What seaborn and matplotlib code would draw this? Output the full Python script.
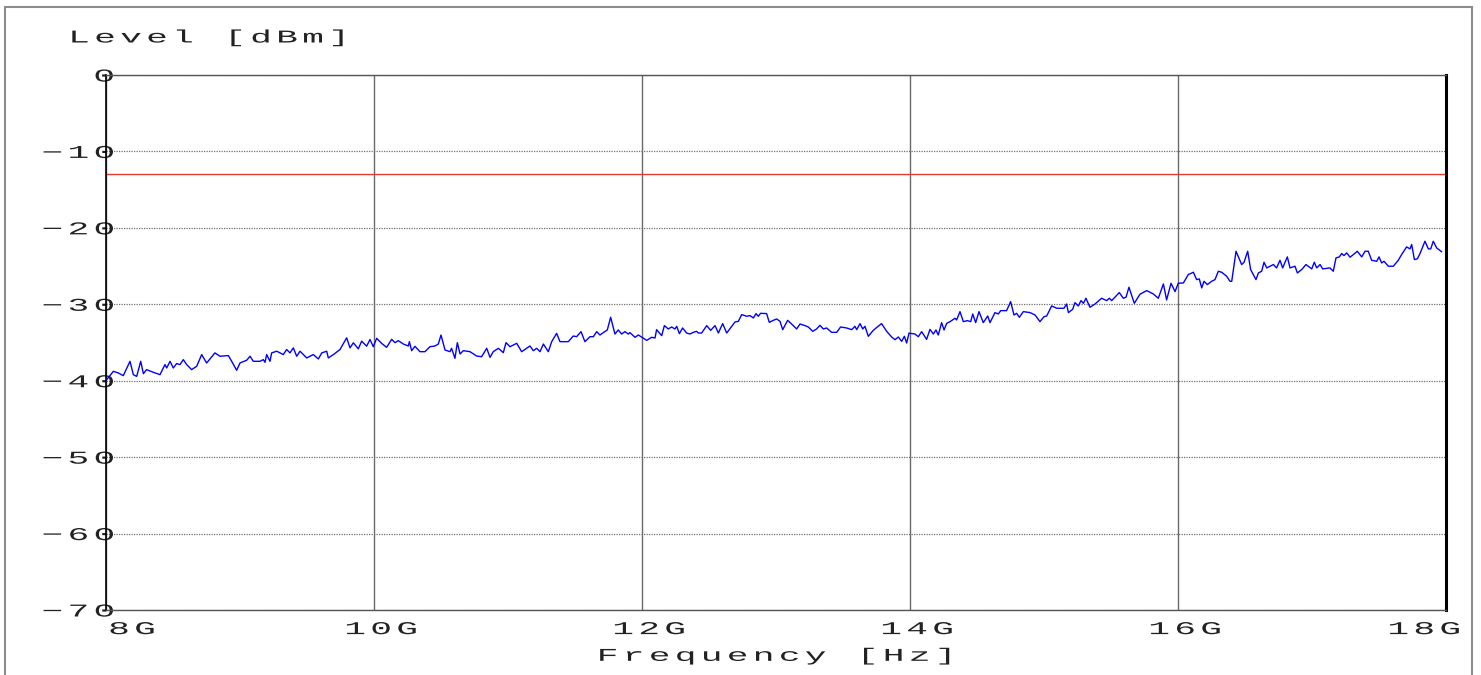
import matplotlib
matplotlib.use('Agg')
import numpy as np
import matplotlib.pyplot as plt
import matplotlib.transforms as mtransforms
from matplotlib.patches import Rectangle
from matplotlib.path import Path
from matplotlib.patheffects import AbstractPathEffect
import pandas as pd
import seaborn as sns

# trace (GHz, dBm)
freq_ghz = [
    8.005, 8.055, 8.092, 8.129, 8.179, 8.204, 8.229, 8.259, 8.279, 8.303, 8.353, 8.403, 8.440, 8.453, 8.478,
    8.502, 8.527, 8.552, 8.577, 8.602, 8.639, 8.677, 8.714, 8.751, 8.813, 8.851, 8.913, 8.938, 8.975, 9.000,
    9.050, 9.075, 9.099, 9.149, 9.174, 9.187, 9.199, 9.224, 9.236, 9.274, 9.323, 9.348, 9.373, 9.398, 9.423,
    9.448, 9.498, 9.547, 9.585, 9.610, 9.647, 9.659, 9.697, 9.746, 9.796, 9.821, 9.846, 9.883, 9.908, 9.945,
    9.970,
    9.995, 10.020, 10.057, 10.094, 10.132, 10.157, 10.181, 10.219, 10.256, 10.264, 10.281, 10.306, 10.343,
    10.380, 10.418, 10.455, 10.480, 10.500, 10.530, 10.567, 10.579, 10.604, 10.622, 10.642, 10.667, 10.716,
    10.766, 10.803, 10.841, 10.866, 10.890, 10.928, 10.965, 10.985, 11.015, 11.040, 11.065, 11.102, 11.139,
    11.164, 11.189, 11.214, 11.239, 11.264, 11.301, 11.326, 11.363, 11.388, 11.450, 11.487, 11.512, 11.545,
    11.574, 11.612, 11.637, 11.662, 11.686, 11.711, 11.741, 11.766, 11.798, 11.823, 11.848, 11.873, 11.898,
    11.910, 11.948, 11.973,
    12.035, 12.072, 12.097, 12.109, 12.147, 12.167, 12.196, 12.221, 12.246, 12.259, 12.279, 12.303, 12.333,
    12.358, 12.383, 12.408, 12.420, 12.445, 12.483, 12.512, 12.545, 12.570, 12.602, 12.632, 12.694, 12.719,
    12.744, 12.781, 12.806, 12.831, 12.851, 12.868, 12.885, 12.930, 12.950, 12.980, 13.005, 13.030, 13.050,
    13.087, 13.129, 13.154, 13.179, 13.216, 13.241, 13.274, 13.303, 13.328, 13.353, 13.378, 13.415, 13.453,
    13.482, 13.527, 13.565, 13.589, 13.602, 13.627, 13.647, 13.664, 13.689, 13.726, 13.756, 13.788, 13.826,
    13.863, 13.888, 13.913, 13.938, 13.958, 13.975, 13.993,
    14.000, 14.037, 14.062, 14.087, 14.124, 14.149, 14.174, 14.194, 14.211, 14.236, 14.254, 14.274, 14.299,
    14.336, 14.348, 14.373, 14.398, 14.428, 14.453, 14.468, 14.490, 14.515, 14.547, 14.580, 14.597, 14.634,
    14.659, 14.677, 14.721, 14.751, 14.776, 14.796, 14.816, 14.846, 14.896, 14.933, 14.970, 15.000, 15.020,
    15.057, 15.095, 15.149, 15.169, 15.182, 15.214, 15.231, 15.256, 15.276, 15.294, 15.313, 15.343, 15.381,
    15.430, 15.468, 15.488, 15.505, 15.562, 15.592, 15.612, 15.634, 15.674, 15.716, 15.766, 15.816, 15.853,
    15.891, 15.915, 15.948, 15.978, 16.002,
    16.040, 16.077, 16.115, 16.139, 16.159, 16.177, 16.194, 16.219, 16.251, 16.276, 16.301, 16.326, 16.363,
    16.388, 16.401, 16.433, 16.475, 16.493, 16.520, 16.542, 16.582, 16.600, 16.624, 16.642, 16.662, 16.712,
    16.736, 16.761, 16.781, 16.816, 16.836, 16.873, 16.891, 16.923, 16.955, 16.998, 17.017, 17.035, 17.060,
    17.080, 17.134, 17.159, 17.179, 17.204, 17.221, 17.239, 17.259, 17.284, 17.309, 17.338, 17.371, 17.396,
    17.420, 17.445, 17.483, 17.500, 17.520, 17.537, 17.570, 17.607, 17.644, 17.669, 17.706, 17.731, 17.744,
    17.764, 17.786, 17.806, 17.843, 17.868, 17.886, 17.905, 17.930, 17.968,
]
level_dbm = [
    -39.87, -38.77, -38.99, -39.34, -37.46, -39.21, -39.43, -37.46, -39.08, -38.55, -38.90, -39.21, -37.89,
    -38.33, -37.46, -38.33, -37.76, -37.89, -37.24, -37.89, -38.55, -38.11, -36.58, -37.68, -36.36, -36.80,
    -36.71, -37.46, -38.64, -37.68, -37.32, -36.80, -37.46, -37.46, -37.24, -37.59, -36.58, -37.46, -36.36,
    -36.14, -36.58, -35.92, -36.36, -35.70, -36.80, -36.14, -37.02, -36.58, -37.15, -36.36, -36.14, -37.02,
    -36.58, -35.92, -34.39, -35.70, -35.04, -35.83, -34.82, -35.48, -34.61,
    -35.55, -34.45, -35.11, -35.63, -34.59, -35.02, -34.76, -35.20, -35.46, -34.89, -36.07, -35.50, -36.20,
    -36.20, -35.55, -35.46, -35.20, -34.02, -35.98, -36.20, -35.76, -37.07, -35.02, -36.50, -36.07, -36.20,
    -36.77, -36.86, -35.76, -36.94, -36.20, -35.76, -36.33, -35.02, -35.55, -35.33, -35.11, -36.20, -35.76,
    -35.46, -36.07, -35.76, -36.20, -35.20, -36.20, -34.89, -33.80, -34.89, -34.89, -34.15, -34.24, -33.58,
    -34.89, -34.24, -34.24, -33.58, -34.02, -33.71, -33.36, -31.70, -33.89, -33.36, -33.89, -33.58, -33.89,
    -33.71, -34.32, -34.02,
    -34.72, -34.32, -34.41, -33.32, -34.10, -32.79, -33.23, -32.97, -33.23, -32.88, -33.84, -33.10, -33.76,
    -33.89, -33.67, -33.54, -33.76, -33.76, -32.79, -33.41, -32.79, -33.76, -32.53, -33.76, -32.31, -32.23,
    -31.35, -31.57, -31.48, -31.79, -31.22, -31.57, -31.18, -31.22, -32.36, -32.10, -31.92, -32.23, -33.32,
    -32.10, -32.79, -33.23, -32.58, -32.79, -32.97, -33.54, -33.23, -32.75, -33.23, -33.10, -33.67, -33.67,
    -32.97, -33.10, -33.32, -32.88, -33.32, -32.53, -33.23, -32.88, -34.19, -33.41, -32.97, -32.53, -33.54,
    -34.28, -34.63, -34.28, -34.85, -34.19, -35.07, -33.76,
    -33.80, -33.89, -34.24, -33.58, -34.59, -33.28, -33.89, -33.36, -34.02, -32.40, -33.36, -32.49, -32.27,
    -31.83, -32.05, -30.96, -32.27, -32.14, -32.27, -31.27, -32.40, -30.96, -32.40, -31.53, -32.40, -31.09,
    -31.27, -30.83, -30.83, -29.65, -31.40, -31.18, -31.70, -30.96, -31.09, -31.40, -32.27, -31.62, -31.53,
    -30.22, -30.52, -30.52, -29.96, -31.09, -30.66, -29.78, -30.22, -29.52, -29.87, -29.21, -30.39, -29.96,
    -29.21, -29.52, -29.21, -29.52, -28.47, -29.21, -29.08, -27.77, -29.87, -28.69, -28.21, -28.65, -29.21,
    -27.34, -29.43, -27.25, -28.34, -27.25,
    -27.21, -26.11, -25.81, -26.77, -26.68, -27.86, -26.99, -27.42, -26.99, -26.77, -25.68, -25.81, -26.33,
    -26.99, -26.99, -23.06, -24.80, -24.50, -23.06, -25.46, -26.77, -25.90, -25.68, -24.50, -25.24, -24.80,
    -25.24, -24.24, -25.24, -23.80, -25.24, -25.02, -25.90, -25.46, -24.80, -25.37, -24.50, -25.24, -24.80,
    -25.37, -25.24, -25.68, -23.93, -23.80, -23.36, -23.62, -23.28, -23.84, -23.49, -23.06, -23.80, -23.06,
    -23.06, -24.24, -24.37, -23.80, -24.59, -24.37, -25.02, -25.02, -24.24, -23.49, -22.49, -22.75, -22.18,
    -24.15, -24.06, -23.36, -21.75, -22.75, -22.75, -21.75, -22.62, -23.14,
]
limit_dbm = -13

x_ticks = [8, 10, 12, 14, 16, 18]
x_labels = ['8G', '10G', '12G', '14G', '16G', '18G']
y_ticks = [0, -10, -20, -30, -40, -50, -60, -70]
y_labels = ['0', '\u221210', '\u221220', '\u221230', '\u221240', '\u221250', '\u221260', '\u221270']


class WideText(AbstractPathEffect):
    """Stretch monospace glyphs and their cells sideways, like the analyser's screen font."""

    def __init__(self, glyph=2.0, cell=2.4, anchor='left'):
        super().__init__()
        self.glyph, self.cell, self.anchor = glyph, cell, anchor

    def draw_path(self, renderer, gc, tpath, affine, rgbFace=None):
        codes = tpath.codes
        if codes is None or len(codes) == 0:
            return
        adv = 60.0  # Liberation Mono advance in text2path units
        verts = tpath.vertices.copy()
        starts = np.flatnonzero(codes == Path.MOVETO).tolist() + [len(codes)]
        kmax = 0
        for a, b in zip(starts[:-1], starts[1:]):
            keep = codes[a:b] != Path.CLOSEPOLY
            xs = verts[a:b][keep, 0]
            if len(xs) == 0:
                continue
            k = np.floor((xs.min() + xs.max()) / 2 / adv)
            kmax = max(kmax, k)
            mid = (k + 0.5) * adv
            verts[a:b, 0] = mid * self.cell + (verts[a:b, 0] - mid) * self.glyph
        extra = (kmax + 1) * adv * (self.cell - 1)
        if self.anchor == 'right':
            verts[:, 0] -= extra
        elif self.anchor == 'center':
            verts[:, 0] -= extra / 2
        renderer.draw_path(gc, Path(verts, codes), affine, rgbFace)


sns.set_style('white')
plt.rcParams['font.family'] = ['Liberation Mono', 'DejaVu Sans']

FS = 13
TXT = '#222222'
W, H = 1481, 675
fig = plt.figure(figsize=(W / 100, H / 100), dpi=100)
ax = fig.add_axes([106 / W, 1 - 610 / H, 1340 / W, 535 / H])

df = pd.DataFrame({'freq': freq_ghz, 'level': level_dbm})
sns.lineplot(data=df, x='freq', y='level', ax=ax, color='#0000ff', lw=1, zorder=3)
ax.axhline(limit_dbm, color='#e23a32', lw=1, zorder=2)

ax.set_xlim(8, 18)
ax.set_ylim(-70, 0)
ax.set_xticks(x_ticks, x_labels)
ax.set_yticks(y_ticks, y_labels)
ax.tick_params(axis='both', length=0, labelsize=FS, labelcolor=TXT)
ax.tick_params(axis='y', pad=-8)
ax.tick_params(axis='x', pad=8)

# grid: solid verticals, dotted horizontals
ax.xaxis.grid(True, color='#6a6a6a', lw=1, ls='-')
ax.yaxis.grid(True, color='#707070', lw=0.9, ls=(0, (1, 1)))
ax.set_axisbelow(True)

for side in ['top', 'bottom']:
    ax.spines[side].set_linestyle((0, (1, 1)))
    ax.spines[side].set_color('#555555')
    ax.spines[side].set_linewidth(1)
ax.spines['left'].set_color('black')
ax.spines['left'].set_linewidth(1.2)
ax.spines['right'].set_color('black')
ax.spines['right'].set_linewidth(2.2)

for lab in ax.get_yticklabels():
    lab.set_path_effects([WideText(anchor='right')])

# first tick label sits right of the tick, last one left of it
labels = ax.get_xticklabels()
for i, lab in enumerate(labels):
    if i == 0:
        lab.set_ha('left')
        anchor, dx = 'left', 0
    elif i == len(labels) - 1:
        lab.set_ha('right')
        anchor, dx = 'right', 17
    else:
        anchor, dx = 'center', 7
    lab.set_path_effects([WideText(anchor=anchor)])
    lab.set_transform(lab.get_transform() + mtransforms.ScaledTranslation(dx / 100, 0, fig.dpi_scale_trans))

ax.set_xlabel('Frequency [Hz]', fontsize=FS, labelpad=7, color=TXT,
              path_effects=[WideText(anchor='center')])
ax.set_ylabel('')
fig.text(66 / W, 1 - 38 / H, 'Level [dBm]', fontsize=FS, color=TXT, ha='left', va='center',
         path_effects=[WideText(anchor='left')])

# outer frame of the screenshot
fig.patches.append(Rectangle((5 / W, -0.05), 1467 / W, 1 - 7 / H + 0.05, transform=fig.transFigure,
                             fill=False, ec='#8c8c8c', lw=1.5))

fig.savefig('out.png', dpi=100)
